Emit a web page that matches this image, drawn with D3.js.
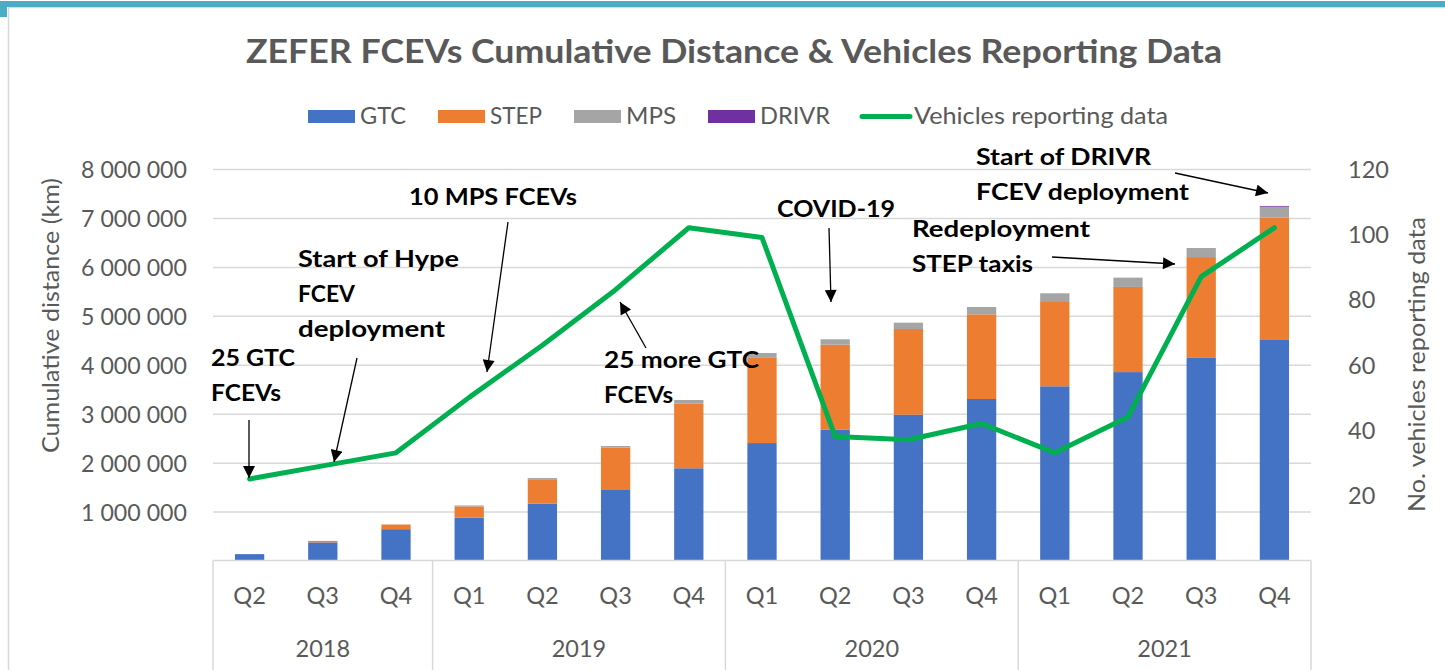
<!DOCTYPE html>
<html>
<head>
<meta charset="utf-8">
<script src="https://cdn.jsdelivr.net/npm/d3@7"></script>
<style>
  html, body { margin: 0; padding: 0; background: #ffffff; }
  svg { display: block; }
</style>
</head>
<body>
<script>
// ---------------- DATA ----------------
const years = ["2018", "2019", "2020", "2021"];
const quarters = ["Q2","Q3","Q4","Q1","Q2","Q3","Q4","Q1","Q2","Q3","Q4","Q1","Q2","Q3","Q4"];
const quarterYear = ["2018","2018","2018","2019","2019","2019","2019","2020","2020","2020","2020","2021","2021","2021","2021"];
const gtc   = [130000, 370000, 640000, 875000, 1160000, 1455000, 1885000, 2400000, 2670000, 2980000, 3300000, 3560000, 3850000, 4140000, 4520000];
const step  = [0, 30000, 95000, 230000, 500000, 855000, 1325000, 1740000, 1740000, 1750000, 1730000, 1740000, 1740000, 2060000, 2490000];
const mps   = [0, 0, 0, 20000, 25000, 30000, 70000, 100000, 110000, 130000, 150000, 160000, 190000, 185000, 220000];
const drivr = [0, 0, 0, 0, 0, 0, 0, 0, 0, 0, 0, 0, 0, 0, 15000];
const vehicles = [25, 29, 33, 50, 66, 83, 102, 99, 38, 37, 42, 33, 44, 87, 102];
const seriesNames = ["GTC", "STEP", "MPS", "DRIVR"];
const lineName = "Vehicles reporting data";
const leftTicks = [1000000, 2000000, 3000000, 4000000, 5000000, 6000000, 7000000, 8000000];
const rightTicks = [20, 40, 60, 80, 100, 120];
const titleText = "ZEFER FCEVs Cumulative Distance & Vehicles Reporting Data";
const leftTitle = "Cumulative distance (km)";
const rightTitle = "No. vehicles reporting data";
const annotationTexts = [
  ["25 GTC", "FCEVs"],
  ["Start of Hype", "FCEV", "deployment"],
  ["10 MPS FCEVs"],
  ["25 more GTC", "FCEVs"],
  ["COVID-19"],
  ["Redeployment", "STEP taxis"],
  ["Start of DRIVR", "FCEV deployment"]
];

// ---------------- LAYOUT / STYLE ----------------
const W = 1445, H = 670;
const plotL = 213, plotR = 1311, plotT = 169, plotB = 560.5;
const colors = ["#4472C4", "#ED7D31", "#A5A5A5", "#7030A0"];
const lineColor = "#00B050";
const gridColor = "#d9d9d9";
const textColor = "#595959";
const FONT = "Lato, 'Open Sans', 'Liberation Sans', sans-serif";

// annotation layout: [textLeft, firstBaseline, widths..., arrow [x1,y1,x2,y2]]
const annLayout = [
  {x: 211, y: 366, w: [84, 70], arrow: [249, 420, 249, 478]},
  {x: 298, y: 267, w: [161, 57, 147], arrow: [357, 358, 334, 462]},
  {x: 409, y: 205, w: [168], arrow: [508, 222, 487, 372]},
  {x: 604, y: 368, w: [155, 69], arrow: [646, 348, 620, 302]},
  {x: 777, y: 217, w: [118], arrow: [829, 228, 831, 302]},
  {x: 912, y: 237, w: [178, 121], arrow: [1052, 257, 1175, 264]},
  {x: 976, y: 165, w: [175, 213], arrow: [1175, 173, 1268, 193]}
];

const svg = d3.select("body").append("svg")
  .attr("width", W).attr("height", H)
  .style("font-family", FONT);

// frame
svg.append("rect").attr("x", 0).attr("y", 0).attr("width", W).attr("height", H).attr("fill", "#fff");
svg.append("rect").attr("x", 8.5).attr("y", 7.5).attr("width", W).attr("height", H + 10)
  .attr("fill", "#fff").attr("stroke", gridColor).attr("stroke-width", 1.5);
svg.append("rect").attr("x", 0).attr("y", 1).attr("width", W).attr("height", 6).attr("fill", "#4BACC6");
svg.append("rect").attr("x", 0).attr("y", 1).attr("width", 7).attr("height", 16).attr("fill", "#4BACC6");

// arrow marker
svg.append("defs").append("marker")
  .attr("id", "arr").attr("viewBox", "0 0 10 10")
  .attr("refX", 10).attr("refY", 5)
  .attr("markerWidth", 14).attr("markerHeight", 12)
  .attr("markerUnits", "userSpaceOnUse")
  .attr("orient", "auto")
  .append("path").attr("d", "M0,0 L10,5 L0,10 Z").attr("fill", "#000");

// scales
const n = quarters.length;
const x = d3.scaleBand().domain(d3.range(n)).range([plotL, plotR]).paddingInner(0.6).paddingOuter(0.3);
const yL = d3.scaleLinear().domain([0, 8000000]).range([plotB, plotT]);
const yR = d3.scaleLinear().domain([0, 120]).range([plotB, plotT]);
const bw = x.bandwidth();

const locale = d3.formatLocale({decimal: ",", thousands: " ", grouping: [3], currency: ["", ""]});
const fmt = locale.format(",d");

// title
svg.append("text").attr("x", 734).attr("y", 63).attr("text-anchor", "middle")
  .attr("font-size", 32).attr("font-weight", 700).attr("fill", textColor)
  .attr("textLength", 976).attr("lengthAdjust", "spacingAndGlyphs")
  .text(titleText);

// legend
const legendItems = seriesNames.map((s, i) => ({name: s, color: colors[i], type: "rect"}))
  .concat([{name: lineName, color: lineColor, type: "line"}]);
const legendW = [46, 52, 50, 70, 254];
let lx = 308;
const lg = svg.append("g");
legendItems.forEach((it, i) => {
  if (it.type === "rect") {
    lg.append("rect").attr("x", lx).attr("y", 110).attr("width", 47).attr("height", 13).attr("fill", it.color);
  } else {
    lg.append("line").attr("x1", lx).attr("x2", lx + 48).attr("y1", 116.5).attr("y2", 116.5)
      .attr("stroke", it.color).attr("stroke-width", 5).attr("stroke-linecap", "round");
  }
  lg.append("text").attr("x", lx + 52).attr("y", 124).attr("font-size", 23.5).attr("fill", textColor)
    .attr("textLength", legendW[i]).attr("lengthAdjust", "spacingAndGlyphs")
    .text(it.name);
  lx += 52 + legendW[i] + 32;
});

// left axis with gridlines
const gL = svg.append("g").attr("transform", `translate(${plotL},0)`)
  .call(d3.axisLeft(yL).tickValues(leftTicks).tickSize(-(plotR - plotL)).tickPadding(26).tickFormat(fmt));
gL.select(".domain").remove();
gL.selectAll(".tick line").attr("stroke", gridColor).attr("stroke-width", 1.5);
gL.selectAll(".tick text").attr("font-size", 23.5).attr("fill", textColor)
  .attr("font-family", FONT).attr("dy", "0.36em")
  .attr("textLength", 106).attr("lengthAdjust", "spacingAndGlyphs");

// right axis
const gR = svg.append("g").attr("transform", `translate(${plotR},0)`)
  .call(d3.axisRight(yR).tickValues(rightTicks).tickSize(0).tickPadding(37));
gR.select(".domain").remove();
gR.selectAll(".tick text").attr("font-size", 23.5).attr("fill", textColor)
  .attr("font-family", FONT).attr("dy", "0.36em");

// axis titles
svg.append("text").attr("transform", "translate(59,315.5) rotate(-90)").attr("text-anchor", "middle")
  .attr("font-size", 23.5).attr("fill", textColor)
  .attr("textLength", 275).attr("lengthAdjust", "spacingAndGlyphs").text(leftTitle);
svg.append("text").attr("transform", "translate(1425,364.5) rotate(-90)").attr("text-anchor", "middle")
  .attr("font-size", 23.5).attr("fill", textColor)
  .attr("textLength", 295).attr("lengthAdjust", "spacingAndGlyphs").text(rightTitle);

// stacked bars
const rows = d3.range(n).map(i => ({i, GTC: gtc[i], STEP: step[i], MPS: mps[i], DRIVR: drivr[i]}));
const stacked = d3.stack().keys(seriesNames)(rows);
svg.append("g").selectAll("g").data(stacked).join("g")
  .attr("fill", (d, k) => colors[k])
  .selectAll("rect").data(d => d.filter(p => p[1] > p[0])).join("rect")
  .attr("x", d => x(d.data.i))
  .attr("width", bw)
  .attr("y", d => yL(d[1]))
  .attr("height", d => yL(d[0]) - yL(d[1]));

// category axis
const gx = svg.append("g");
gx.append("line").attr("x1", plotL).attr("x2", plotR).attr("y1", plotB).attr("y2", plotB)
  .attr("stroke", gridColor).attr("stroke-width", 1.5);
const groupStarts = [];
years.forEach(yr => { groupStarts.push(quarterYear.indexOf(yr)); });
const bounds = groupStarts.concat([n]);
bounds.forEach(b => {
  const bx = plotL + x.step() * b;
  gx.append("line").attr("x1", bx).attr("x2", bx).attr("y1", plotB).attr("y2", H)
    .attr("stroke", gridColor).attr("stroke-width", 1.5);
});
quarters.forEach((q, i) => {
  gx.append("text").attr("x", x(i) + bw / 2).attr("y", 604).attr("text-anchor", "middle")
    .attr("font-size", 23.5).attr("fill", textColor).text(q);
});
years.forEach((yr, k) => {
  const cx = plotL + x.step() * (bounds[k] + bounds[k + 1]) / 2;
  gx.append("text").attr("x", cx).attr("y", 657).attr("text-anchor", "middle")
    .attr("font-size", 23.5).attr("fill", textColor).text(yr);
});

// vehicles line
const line = d3.line().x((d, i) => x(i) + bw / 2).y(d => yR(d));
svg.append("path").datum(vehicles).attr("d", line)
  .attr("fill", "none").attr("stroke", lineColor).attr("stroke-width", 5)
  .attr("stroke-linejoin", "round").attr("stroke-linecap", "round");

// annotations
const ga = svg.append("g");
annotationTexts.forEach((lines, k) => {
  const L = annLayout[k];
  lines.forEach((t, j) => {
    ga.append("text").attr("x", L.x).attr("y", L.y + j * 35)
      .attr("font-size", 23).attr("font-weight", 700).attr("fill", "#000")
      .attr("textLength", L.w[j]).attr("lengthAdjust", "spacingAndGlyphs")
      .text(t);
  });
  const a = L.arrow;
  ga.append("line").attr("x1", a[0]).attr("y1", a[1]).attr("x2", a[2]).attr("y2", a[3])
    .attr("stroke", "#000").attr("stroke-width", 1.3).attr("marker-end", "url(#arr)");
});
</script>
</body>
</html>
